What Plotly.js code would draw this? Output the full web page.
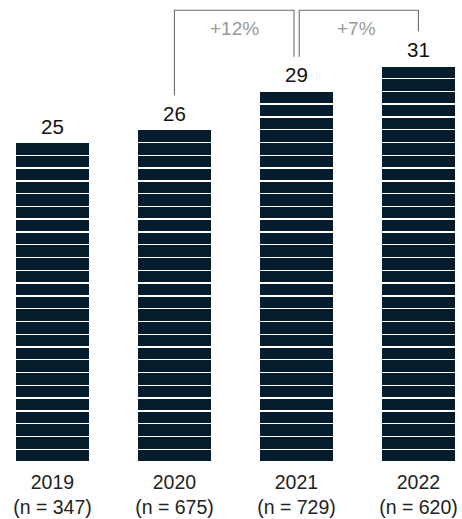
<!DOCTYPE html>
<html>
<head>
<meta charset="utf-8">
<script src="https://cdn.plot.ly/plotly-3.0.1.min.js"></script>
<style>
html,body{margin:0;padding:0;background:#fff;}
#chart{width:462px;height:519px;}
</style>
</head>
<body>
<div id="chart"></div>
<script>
// ---- data ----
const years = ["2019", "2020", "2021", "2022"];
const sampleSizes = [347, 675, 729, 620];
const values = [25, 26, 29, 31];
// brackets compare consecutive pairs (index from, index to)
const comparisons = [[1, 2], [2, 3]];

// ---- build ----
const xs = years.map((_, i) => i);
const maxV = Math.max(...values);
const navy = "#051c2c";
const traces = [];
for (let k = 1; k <= maxV; k++) {
  traces.push({
    type: "bar",
    x: xs,
    y: values.map(v => (v >= k ? 1 : null)),
    width: 0.604,
    marker: { color: navy, line: { color: "#ffffff", width: 1.4 } },
    hoverinfo: "skip",
    showlegend: false
  });
}

const font = "Liberation Sans, Arial, sans-serif";
const annotations = values.map((v, i) => ({
  x: i, y: v, xref: "x", yref: "y",
  text: String(v), showarrow: false,
  yanchor: "bottom", yshift: 3,
  font: { family: font, size: 20.5, color: "#111111" }
}));

const topY = 35.35;
const gap = 2.7;
const shapes = [];
comparisons.forEach(([a, b], j) => {
  const xa = a + (j > 0 ? 0.023 : 0);
  const xb = b - (j < comparisons.length - 1 ? 0.02 : 0);
  shapes.push({
    type: "path", xref: "x", yref: "y",
    path: `M ${xa},${values[a] + gap} L ${xa},${topY} L ${xb},${topY} L ${xb},${values[b] + gap}`,
    line: { color: "#6e6e6e", width: 1.1 }
  });
  const pct = Math.round((values[b] - values[a]) / values[a] * 100);
  annotations.push({
    x: (a + b) / 2 - 0.01, y: 33.95, xref: "x", yref: "y",
    text: "+" + pct + "%", showarrow: false,
    xanchor: "center", yanchor: "middle",
    font: { family: font, size: 19, color: "#9a9a9a" }
  });
});

const layout = {
  width: 462, height: 519,
  margin: { l: 0, r: 0, t: 0, b: 57 },
  paper_bgcolor: "#ffffff", plot_bgcolor: "#ffffff",
  barmode: "stack", bargap: 0,
  xaxis: {
    range: [-0.43, 3.357],
    tickvals: xs,
    ticktext: years.map((y, i) => y + "<br>(n = " + sampleSizes[i] + ")"),
    tickfont: { family: font, size: 19.5, color: "#222222" },
    ticklabelstandoff: 6,
    showgrid: false, zeroline: false, showline: false, ticks: "",
    fixedrange: true
  },
  yaxis: {
    range: [0, 36.15],
    visible: false, showgrid: false, zeroline: false, fixedrange: true
  },
  shapes: shapes,
  annotations: annotations,
  showlegend: false
};

Plotly.newPlot("chart", traces, layout, { displayModeBar: false, staticPlot: true });
</script>
</body>
</html>
